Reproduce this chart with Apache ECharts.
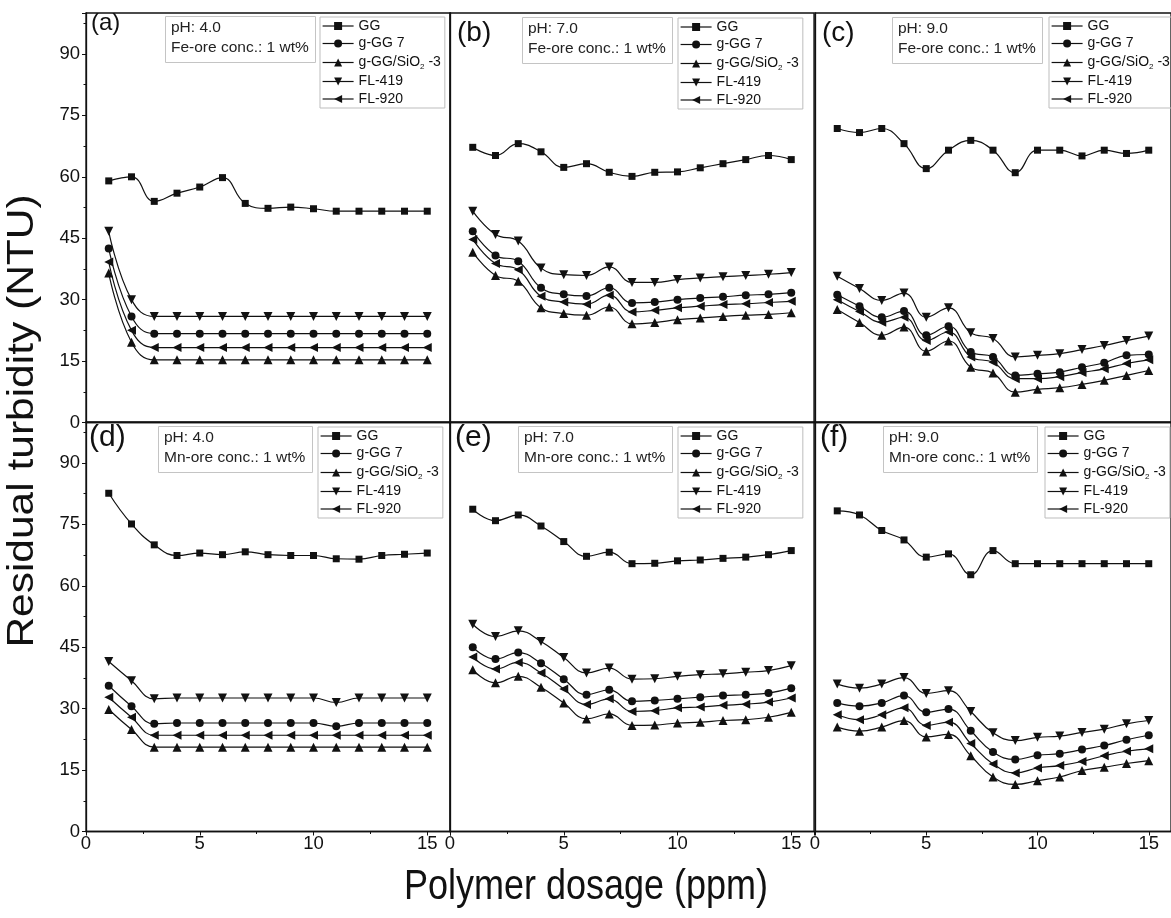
<!DOCTYPE html>
<html>
<head>
<meta charset="utf-8">
<script src="https://cdn.jsdelivr.net/npm/echarts@6/dist/echarts.min.js"></script>
<style>
html,body{margin:0;padding:0;background:#fff;}
#chart{width:1171px;height:918px;}
</style>
</head>
<body>
<div id="chart"></div>
<script>
// ---------- data ----------
const dosage = [1,2,3,4,5,6,7,8,9,10,11,12,13,14,15];
const seriesNames = ['GG','g-GG 7','g-GG/SiO2 -3','FL-419','FL-920'];
const panelLabels = ['(a)','(b)','(c)','(d)','(e)','(f)'];
const panelNotes = [
  'pH: 4.0\nFe-ore conc.: 1 wt%',
  'pH: 7.0\nFe-ore conc.: 1 wt%',
  'pH: 9.0\nFe-ore conc.: 1 wt%',
  'pH: 4.0\nMn-ore conc.: 1 wt%',
  'pH: 7.0\nMn-ore conc.: 1 wt%',
  'pH: 9.0\nMn-ore conc.: 1 wt%'
];
const xTitle = 'Polymer dosage (ppm)';
const yTitle = 'Residual turbidity (NTU)';

// (a) Fe-ore, pH 4
const a_GG    = [59.0,60.0,54.0,56.0,57.5,59.8,53.5,52.3,52.6,52.2,51.6,51.6,51.6,51.6,51.6];
const a_gGG7  = [42.5,25.9,21.7,21.7,21.7,21.7,21.7,21.7,21.7,21.7,21.7,21.7,21.7,21.7,21.7];
const a_SiO2  = [36.5,19.6,15.3,15.3,15.3,15.3,15.3,15.3,15.3,15.3,15.3,15.3,15.3,15.3,15.3];
const a_FL419 = [46.7,30.0,25.9,25.9,25.9,25.9,25.9,25.9,25.9,25.9,25.9,25.9,25.9,25.9,25.9];
const a_FL920 = [39.2,22.5,18.3,18.3,18.3,18.3,18.3,18.3,18.3,18.3,18.3,18.3,18.3,18.3,18.3];
// (b) Fe-ore, pH 7
const b_GG    = [67.2,65.2,68.1,66.1,62.3,63.2,61.1,60.1,61.1,61.2,62.2,63.2,64.2,65.2,64.2];
const b_gGG7  = [46.7,40.8,39.4,32.9,31.3,30.9,32.9,29.2,29.4,30.0,30.4,30.7,31.1,31.3,31.7];
const b_SiO2  = [41.6,35.9,34.5,28.0,26.6,26.2,28.2,24.1,24.4,25.1,25.5,25.9,26.2,26.4,26.8];
const b_FL419 = [51.6,45.9,44.3,37.7,36.1,35.9,38.0,34.2,34.2,34.9,35.3,35.6,35.9,36.2,36.6];
const b_FL920 = [44.7,38.8,37.3,30.8,29.4,28.9,31.1,27.0,27.4,28.0,28.4,28.8,29.0,29.3,29.6];
// (c) Fe-ore, pH 9
const c_GG    = [71.8,70.8,71.8,68.1,62.0,66.5,68.9,66.5,61.0,66.5,66.5,65.1,66.5,65.7,66.5];
const c_gGG7  = [31.2,28.4,25.7,27.2,21.3,23.5,17.2,16.0,11.5,11.9,12.3,13.5,14.6,16.4,16.6];
const c_SiO2  = [27.6,24.4,21.3,23.3,17.4,19.9,13.5,12.1,7.4,8.1,8.5,9.3,10.3,11.5,12.7];
const c_FL419 = [35.7,32.7,29.8,31.6,25.7,28.0,21.9,20.5,16.0,16.4,16.8,17.8,18.8,20.0,21.1];
const c_FL920 = [30.0,27.1,24.5,25.7,20.0,22.1,16.0,14.7,10.7,10.7,11.2,12.2,13.1,14.4,15.3];
// (d) Mn-ore, pH 4
const d_GG    = [82.6,75.1,70.0,67.4,68.0,67.6,68.3,67.6,67.4,67.4,66.6,66.5,67.4,67.7,68.0];
const d_gGG7  = [35.6,30.6,26.3,26.5,26.5,26.5,26.5,26.5,26.5,26.5,25.7,26.5,26.5,26.5,26.5];
const d_SiO2  = [29.8,24.9,20.6,20.6,20.6,20.6,20.6,20.6,20.6,20.6,20.6,20.6,20.6,20.6,20.6];
const d_FL419 = [41.5,36.8,32.4,32.6,32.6,32.6,32.6,32.6,32.6,32.6,31.5,32.6,32.6,32.6,32.6];
const d_FL920 = [32.8,27.9,23.5,23.5,23.5,23.5,23.5,23.5,23.5,23.5,23.5,23.5,23.5,23.5,23.5];
// (e) Mn-ore, pH 7
const e_GG    = [78.7,75.9,77.3,74.6,70.8,67.2,68.2,65.4,65.5,66.1,66.3,66.7,67.0,67.6,68.6];
const e_gGG7  = [45.0,42.1,43.7,41.1,37.2,33.4,34.6,31.8,32.0,32.4,32.8,33.2,33.4,33.8,35.0];
const e_SiO2  = [39.5,36.3,37.9,35.2,31.4,27.5,28.7,25.9,26.0,26.5,26.7,27.1,27.3,27.9,29.1];
const e_FL419 = [50.6,47.6,49.0,46.4,42.5,38.7,39.9,37.2,37.3,37.9,38.3,38.5,38.9,39.3,40.5];
const e_FL920 = [42.6,39.7,41.3,38.7,34.8,31.0,32.4,29.3,29.5,30.2,30.4,30.8,31.1,31.6,32.6];
// (f) Mn-ore, pH 9
const f_GG    = [78.3,77.3,73.5,71.2,67.0,67.8,62.7,68.6,65.4,65.4,65.4,65.4,65.4,65.4,65.4];
const f_gGG7  = [31.4,30.6,31.4,33.2,29.1,29.9,24.6,19.4,17.6,18.6,19.0,20.0,21.0,22.4,23.5];
const f_SiO2  = [25.5,24.5,25.5,27.1,23.1,23.7,18.5,13.3,11.5,12.4,13.3,14.9,15.7,16.6,17.3];
const f_FL419 = [36.0,35.0,36.0,37.6,33.7,34.4,29.3,24.1,22.2,23.0,23.3,24.2,25.0,26.3,27.1];
const f_FL920 = [28.5,27.3,28.5,30.2,25.9,26.7,21.5,16.5,14.3,15.5,16.1,17.1,18.5,19.6,20.2];

const panels = [
  [a_GG, a_gGG7, a_SiO2, a_FL419, a_FL920],
  [b_GG, b_gGG7, b_SiO2, b_FL419, b_FL920],
  [c_GG, c_gGG7, c_SiO2, c_FL419, c_FL920],
  [d_GG, d_gGG7, d_SiO2, d_FL419, d_FL920],
  [e_GG, e_gGG7, e_SiO2, e_FL419, e_FL920],
  [f_GG, f_gGG7, f_SiO2, f_FL419, f_FL920]
];

// ---------- layout / style ----------
const FONT = 'Liberation Sans, Arial, sans-serif';
const INK = '#111';
const colLeft = [86, 450, 815];
const rowTop = [13, 422];
const gridW = 364, gridH = 409.5;
const legendLeft = [320, 678, 1049, 318, 678, 1045];
const legendTop  = [17, 18, 17, 427, 427, 427];
const noteLeft = [165, 522, 892, 158, 518, 883];
const noteTop  = [16, 17, 17, 426, 426, 426];
const labLeft = [91, 457, 822, 89, 455, 820];
const labTop  = [11, 19, 19, 423, 423, 423];
const labSize = [24, 28, 28, 30, 30, 30];

const symbolDefs = [
  {symbol:'rect', size:7, rotate:0},
  {symbol:'circle', size:8, rotate:0},
  {symbol:'triangle', size:9, rotate:0},
  {symbol:'triangle', size:9, rotate:180},
  {symbol:'triangle', size:9, rotate:90}
];

const grids = [], xAxes = [], yAxes = [], series = [], legends = [], titles = [];
for (let p = 0; p < 6; p++) {
  const r = Math.floor(p / 3), c = p % 3;
  grids.push({left: colLeft[c], top: rowTop[r], width: gridW, height: gridH,
    show: true, borderColor: INK, borderWidth: 1.3, backgroundColor: 'transparent', containLabel: false});
  xAxes.push({
    type: 'value', gridIndex: p, min: 0, max: 16, interval: 5,
    axisLine: {show: true, onZero: false, lineStyle: {color: INK, width: 1.3}},
    axisTick: {show: r === 1, inside: false, length: 4, lineStyle: {color: INK, width: 1}},
    minorTick: {show: r === 1, splitNumber: 2, length: 2.5, lineStyle: {color: INK, width: 1}},
    axisLabel: {show: r === 1, showMaxLabel: false, margin: 3, fontSize: 18.5, color: INK, fontFamily: FONT},
    splitLine: {show: false}
  });
  yAxes.push({
    type: 'value', gridIndex: p, min: 0, max: 100, interval: 15,
    axisLine: {show: true, onZero: false, lineStyle: {color: INK, width: 1.3}},
    axisTick: {show: c === 0, inside: false, length: 4, lineStyle: {color: INK, width: 1}},
    minorTick: {show: c === 0, splitNumber: 2, length: 2.5, lineStyle: {color: INK, width: 1}},
    axisLabel: {show: c === 0, showMaxLabel: false, margin: 6, fontSize: 18.5, color: INK, fontFamily: FONT},
    splitLine: {show: false}
  });
  for (let s = 0; s < 5; s++) {
    const vals = panels[p][s];
    series.push({
      type: 'line', name: seriesNames[s], xAxisIndex: p, yAxisIndex: p,
      data: dosage.map((x, i) => [x, vals[i]]),
      smooth: 0.45,
      symbol: symbolDefs[s].symbol, symbolSize: symbolDefs[s].size, symbolRotate: symbolDefs[s].rotate,
      showAllSymbol: true,
      lineStyle: {color: INK, width: 1.2},
      itemStyle: {color: INK, borderWidth: 0},
      emphasis: {disabled: true},
      animation: false
    });
  }
  legends.push({
    show: true, orient: 'vertical', left: legendLeft[p], top: legendTop[p],
    data: seriesNames, itemWidth: 31, itemHeight: 10, itemGap: 3.5,
    padding: [2, 4, 2, 2], borderColor: '#bdbdbd', borderWidth: 1,
    selectedMode: false,
    lineStyle: {color: INK, width: 1.2},
    itemStyle: {color: INK},
    textStyle: {fontSize: 14, color: INK, fontFamily: FONT, lineHeight: 14,
      rich: {
        t: {fontSize: 14, lineHeight: 14, color: INK, fontFamily: FONT},
        s: {fontSize: 8, lineHeight: 8, color: INK, fontFamily: FONT, padding: [9, 0, 0, 0]}
      }},
    formatter: function (name) {
      if (name.indexOf('SiO2') >= 0) return '{t|g-GG/SiO}{s|2}{t| -3}';
      return name;
    }
  });
  titles.push({
    text: panelNotes[p], left: noteLeft[p], top: noteTop[p],
    borderColor: '#c4c4c4', borderWidth: 1, padding: [2, 7, 5, 6],
    textStyle: {fontSize: 15.5, fontWeight: 'normal', lineHeight: 20, color: '#222', fontFamily: FONT}
  });
  titles.push({
    text: panelLabels[p], left: labLeft[p], top: labTop[p], padding: 0,
    textStyle: {fontSize: labSize[p], fontWeight: 'normal', color: INK, fontFamily: FONT}
  });
}

const chart = echarts.init(document.getElementById('chart'), null, {renderer: 'canvas'});
chart.setOption({
  animation: false,
  backgroundColor: '#fff',
  grid: grids, xAxis: xAxes, yAxis: yAxes, series: series, legend: legends, title: titles,
  graphic: [
    {type: 'text', x: 23, y: 421, rotation: Math.PI / 2, scaleX: 1.18, scaleY: 1,
      style: {text: yTitle, fontSize: 36, fontFamily: FONT, fill: INK, align: 'center', verticalAlign: 'middle'}},
    {type: 'text', x: 586, y: 887, scaleX: 1, scaleY: 1.18,
      style: {text: xTitle, fontSize: 36, fontFamily: FONT, fill: INK, align: 'center', verticalAlign: 'middle'}}
  ]
});
</script>
</body>
</html>
